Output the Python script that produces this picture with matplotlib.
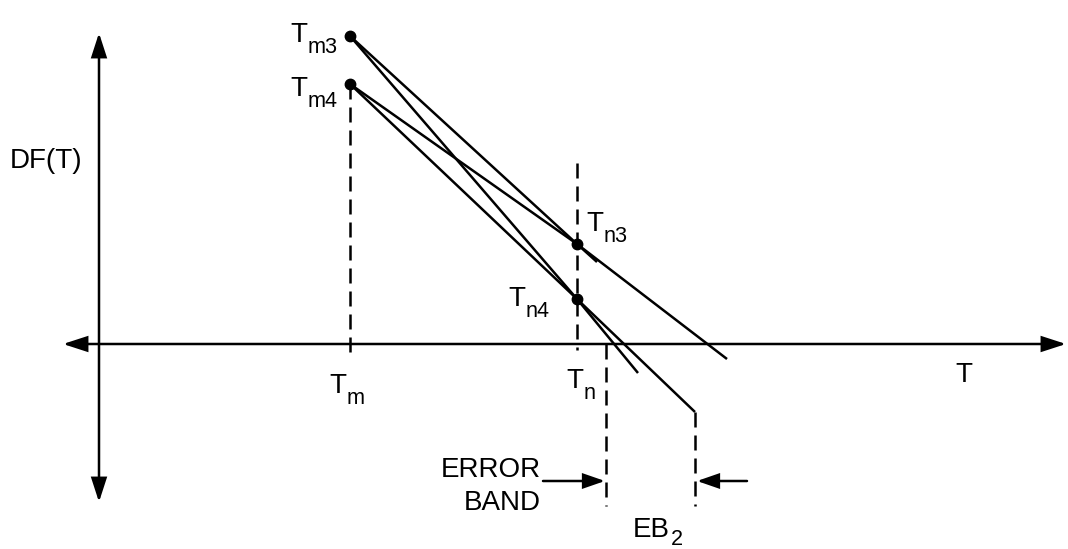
import matplotlib
matplotlib.use("Agg")
import matplotlib.pyplot as plt
from matplotlib.patches import FancyArrowPatch

# ================= data (drawing units = pixels, y grows downward) =================
# axes of the diagram
T_AXIS = [63, 1066]      # horizontal T axis, left / right arrow tips
DF_AXIS = [33, 502]      # vertical DF(T) axis, top / bottom arrow tips
ORIGIN = [99, 344]       # where the axes cross

# the two sample temperatures
T_M = 350
T_N = 577

# DF values at the sample points
DF_M = {'m3': 36, 'm4': 84}
DF_N = {'n3': 244, 'n4': 299}

# lines Tm_i -> Tn_j, extrapolated to an end point (T, DF)
LINES = [('m3', 'n3'), ('m4', 'n3'), ('m3', 'n4'), ('m4', 'n4')]
LINE_END_T = [597, 727, 638, 695]
LINE_END_DF = [262, 359, 373, 412]

# dashed guides
TN_GUIDE_TOP = 163
GUIDE_BOTTOM = [354, 350]       # below axis for Tm, Tn
EB_T = [606, 695]               # error band limits
EB_TOP = [344, 412]
EB_BOTTOM = 506
EB_ARROW_Y = 481
EB_ARROW_FROM = [543, 747]

DPI = 100
FS = 20
LW = 1.8
FONT = 'Liberation Sans'

fig = plt.figure(figsize=(10.68, 5.49), dpi=DPI)
ax = fig.add_axes([0, 0, 1, 1])
ax.set_xlim(0, 1068)
ax.set_ylim(549, 0)
ax.axis('off')


def arrow(p0, p1, style):
    a = FancyArrowPatch(p0, p1, arrowstyle=style, mutation_scale=10,
                        shrinkA=0, shrinkB=0, color='black', lw=LW,
                        joinstyle='miter')
    ax.add_patch(a)


def sub_label(x, y, main, sub, fs=FS, drop=0.38):
    # main text + subscript, x/y = left/baseline of main text
    ax.text(x, y, main, fontsize=fs, family=FONT, ha='left', va='baseline')
    em = fs * DPI / 72
    w = {'T': 0.611, 'EB': 1.334}[main] * em
    ax.text(x + w + 1, y + drop * em, sub, fontsize=fs * 0.78, family=FONT,
            ha='left', va='baseline')


dash = (0, (6, 3.2))

# axes
style = '<|-|>,head_length=1.45,head_width=0.47'
arrow((T_AXIS[0], ORIGIN[1]), (T_AXIS[1], ORIGIN[1]), style)
arrow((ORIGIN[0], DF_AXIS[1]), (ORIGIN[0], DF_AXIS[0]), style)

# dashed guides at Tm and Tn
ax.plot([T_M, T_M], [DF_M['m4'], GUIDE_BOTTOM[0]], color='black', lw=LW, ls=dash)
ax.plot([T_N, T_N], [TN_GUIDE_TOP, GUIDE_BOTTOM[1]], color='black', lw=LW, ls=dash)

# straight lines through the sample points
for (m, n), te, de in zip(LINES, LINE_END_T, LINE_END_DF):
    ax.plot([T_M, T_N, te], [DF_M[m], DF_N[n], de], color='black', lw=LW,
            solid_joinstyle='round', solid_capstyle='butt')

# points
for v in DF_M.values():
    ax.plot(T_M, v, 'o', color='black', ms=7.5)
for v in DF_N.values():
    ax.plot(T_N, v, 'o', color='black', ms=7.5)

# error band
for t, top in zip(EB_T, EB_TOP):
    ax.plot([t, t], [top, EB_BOTTOM], color='black', lw=LW, ls=dash)
head = '-|>,head_length=1.3,head_width=0.45'
arrow((EB_ARROW_FROM[0], EB_ARROW_Y), (EB_T[0] - 1, EB_ARROW_Y), head)
arrow((EB_ARROW_FROM[1], EB_ARROW_Y), (EB_T[1] + 2, EB_ARROW_Y), head)

# labels
ax.text(10, 168, 'DF(T)', fontsize=FS, family=FONT, va='baseline')
ax.text(955, 382, 'T', fontsize=FS, family=FONT, va='baseline')
sub_label(290, 42, 'T', 'm3')
sub_label(290, 96, 'T', 'm4')
sub_label(586, 231, 'T', 'n3')
sub_label(508, 306, 'T', 'n4')
sub_label(329, 393, 'T', 'm')
sub_label(566, 388, 'T', 'n')
sub_label(633, 537, 'EB', '2', drop=0.28)
ax.text(541, 477, 'ERROR', fontsize=FS, family=FONT, ha='right', va='baseline')
ax.text(541, 510, 'BAND', fontsize=FS, family=FONT, ha='right', va='baseline')

fig.savefig('out.png', dpi=DPI)
